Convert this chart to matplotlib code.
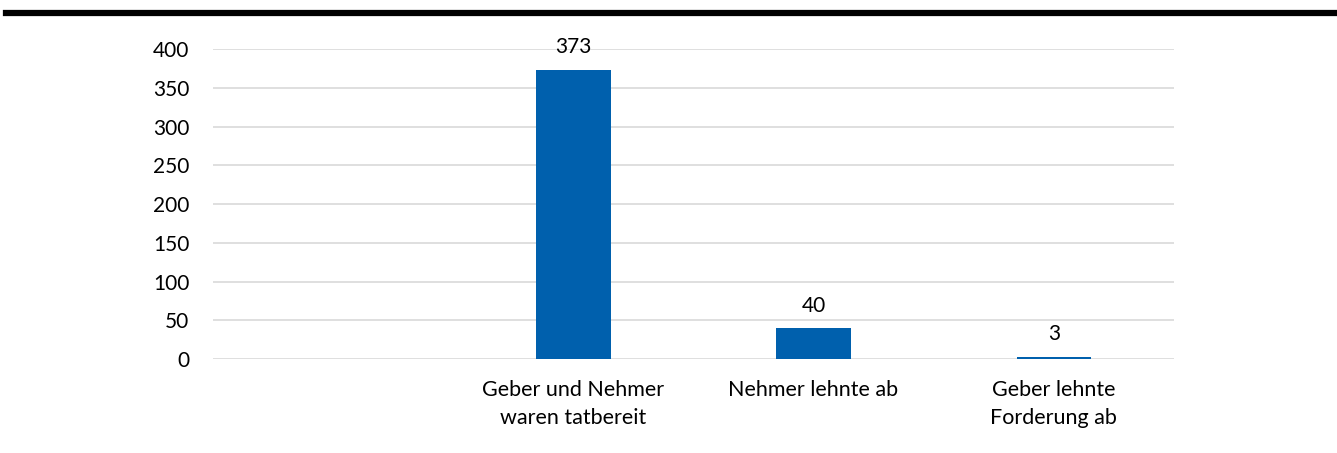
import numpy as np
import matplotlib
matplotlib.use("Agg")
import matplotlib.pyplot as plt
from matplotlib.lines import Line2D

categories = ["", "Geber und Nehmer\nwaren tatbereit", "Nehmer lehnte ab", "Geber lehnte\nForderung ab"]
values = [np.nan, 373, 40, 3]
yticks = [0, 50, 100, 150, 200, 250, 300, 350, 400]

plt.rcParams["font.family"] = ["Lato", "DejaVu Sans"]

fig = plt.figure(figsize=(13.37, 4.53), dpi=100)
ax = fig.add_axes([0.1593, 0.2075, 0.7187, 0.6843])

x = np.arange(len(categories))
bars = ax.bar(x, values, width=0.31, color="#0060AD", zorder=3)

for xi, v in zip(x, values):
    if not np.isnan(v):
        ax.annotate(f"{v:g}", (xi, v), xytext=(0, 9), textcoords="offset points",
                    ha="center", va="bottom", fontsize=15, color="#000000")

ax.set_xlim(-0.5, len(categories) - 0.5)
ax.set_ylim(0, 400)
ax.set_yticks(yticks)
ax.set_xticks(x)
ax.set_xticklabels(categories, fontsize=15.5, linespacing=1.5)
ax.tick_params(axis="y", labelsize=15, length=0, pad=17)
ax.tick_params(axis="x", length=0, pad=15)
ax.grid(axis="y", color="#d9d9d9", linewidth=1.2, zorder=0)
for s in ax.spines.values():
    s.set_visible(False)

# thick rule along the top
fig.add_artist(Line2D([6 / 1337, 1], [0.971, 0.971], color="black", linewidth=4.5,
                      transform=fig.transFigure))

fig.savefig("out.png", dpi=100)
